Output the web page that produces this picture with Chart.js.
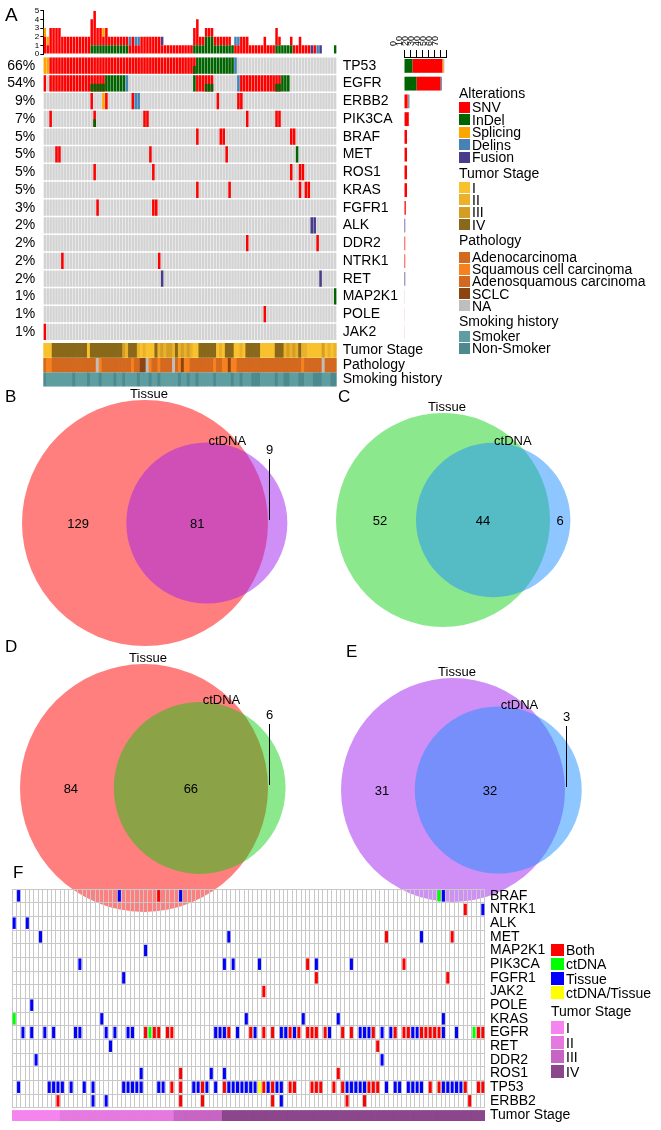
<!DOCTYPE html>
<html><head><meta charset="utf-8">
<script src="https://cdn.jsdelivr.net/npm/chart.js@4.4.1/dist/chart.umd.min.js"></script>
<style>
html,body{margin:0;padding:0;background:#fff;}
#root{position:relative;width:661px;height:1130px;overflow:hidden;font-family:"Liberation Sans",Arial,sans-serif;color:#000;}
.box{position:absolute;}
.t{position:absolute;white-space:nowrap;color:#000;}
.sw{position:absolute;}
</style></head><body><div id="root"></div>
<script>
// ================= DATA =================
// ---- Panel A: oncoprint ----
const nSamples = 100;
const opGenes = ['TP53','EGFR','ERBB2','PIK3CA','BRAF','MET','ROS1','KRAS','FGFR1','ALK','DDR2','NTRK1','RET','MAP2K1','POLE','JAK2'];
const opPct = ['66%','54%','9%','7%','5%','5%','5%','5%','3%','2%','2%','2%','2%','1%','1%','1%'];
// runs per gene: [firstSample, lastSample, type]  S=SNV I=InDel P=Splicing D=Delins F=Fusion X=SNV+InDel
const opRuns = [
  [[0,1,'P'],[2,50,'S'],[51,51,'X'],[52,64,'I'],[65,65,'D']],
  [[0,0,'S'],[2,15,'S'],[16,20,'X'],[21,27,'I'],[28,28,'D'],[51,51,'I'],[52,54,'S'],[55,57,'X'],[66,66,'D'],[67,78,'S'],[79,80,'X'],[81,83,'I']],
  [[16,16,'S'],[20,20,'P'],[21,21,'S'],[30,30,'S'],[31,32,'D'],[59,59,'S'],[66,67,'S']],
  [[2,2,'S'],[17,17,'X'],[34,35,'S'],[69,69,'S'],[79,80,'S']],
  [[52,52,'S'],[60,61,'S'],[84,85,'S']],
  [[4,5,'S'],[36,36,'S'],[62,62,'S'],[86,86,'I']],
  [[17,17,'S'],[37,37,'S'],[84,84,'S'],[87,88,'S']],
  [[52,52,'S'],[63,63,'S'],[87,87,'S'],[89,90,'S']],
  [[18,18,'S'],[37,38,'S']],
  [[91,92,'F']],
  [[69,69,'S'],[93,93,'S']],
  [[6,6,'S'],[39,39,'S']],
  [[40,40,'F'],[94,94,'F']],
  [[99,99,'I']],
  [[75,75,'S']],
  [[0,0,'S']]
];
// top bar: number of alterations per sample by type
const topInDel = [0,0,0,0,0,0,0,0,0,0, 0,0,0,0,0,0,1,1,1,1, 1,1,1,1,1,1,1,1,1,0, 0,0,0,0,0,0,0,0,0,0,
                  0,0,0,0,0,0,0,0,0,0, 0,1,1,1,1,2,2,2,1,1, 1,1,1,1,1,0,0,0,0,0, 0,0,0,0,0,0,0,0,0,1,
                  1,1,1,1,1,0,0,0,0,0, 0,0,0,0,0,0,0,0,0,1];
const topSNV   = [2,1,3,3,3,3,2,2,2,2, 2,2,2,2,2,2,3,4,2,2, 1,2,1,1,1,1,1,1,1,1, 2,1,1,2,2,2,2,2,2,2,
                  1,1,1,1,1,1,1,1,1,1, 1,2,3,1,1,1,1,1,1,1, 1,1,1,1,0,1,1,2,2,2, 1,1,1,1,1,2,1,1,1,2,
                  1,0,0,0,1,1,1,2,1,1, 1,0,1,0,0,0,0,0,0,0];
const topSplicingIdx = [0,1,20];
const topDelinsIdx = [29,31,32,65,66,93];
const topFusionIdx = [40,91,94];
// clinical annotation per sample
const tumorStageA = '1114444444444441444444444443244421211142323324232321144444412144411214444411111444232324221111131212';
const pathologyA = 'ASSAAAAAAAAAAAAAAANSAAAAAAAAAASAACCNSAASAAAANASCSSAAAAAAAASAASSCSSAAAAAAAAAAAAAAAAAAAAAASAAAAAANAAAA';
const nonSmokerIdx = [0,10,15,19,24,27,32,36,39,46,49,52,58,64,67,71,72,73,79,82,83,87,88,92,93,94,98,99];
const altTypes = ['SNV','InDel','Splicing','Delins','Fusion'];
const stageNames = ['I','II','III','IV'];
const pathNames = ['Adenocarcinoma','Squamous cell carcinoma','Adenosquamous carcinoma','SCLC','NA'];
const smokeNames = ['Smoker','Non-Smoker'];

// ---- Panels B-E: Venn ----
const vennPanels = ['B','C','D','E'];
const vennTissueOnly = [129, 52, 84, 31];
const vennShared = [81, 44, 66, 32];
const vennCtOnly = [9, 6, 6, 3];
const vennSetNames = ['Tissue','ctDNA'];

// ---- Panel F ----
const nCols = 108;
const fGenes = ['BRAF','NTRK1','ALK','MET','MAP2K1','PIK3CA','FGFR1','JAK2','POLE','KRAS','EGFR','RET','DDR2','ROS1','TP53','ERBB2'];
const fTissue = [
  [1,24,38,98],[107],[0,3],[6,49,93],[30],[15,48,50,56,69,77],[25],[],[4],[20,53,66,74,98],
  [2,4,7,9,14,15,21,23,26,27,46,47,48,51,55,61,62,64,72,79,80,81,84,86,91,92,98,101],
  [22],[5,84],[29,45,48],
  [1,8,9,10,11,13,16,18,25,26,27,28,29,33,34,41,42,44,46,49,50,51,52,53,54,55,58,60,61,76,77,78,79,80,85,87,88,90,91,92,93,98,99,100,101,102],
  [18,21,61]
];
const fBoth = [
  [33],[103],[],[85,100],[],[67,89],[69,99],[57],[],[],
  [30,32,33,35,36,49,54,57,59,63,65,67,68,69,71,75,77,82,87,89,90,93,94,95,96,97,106,107],
  [83],[],[38,74],
  [36,38,43,48,57,59,63,64,68,69,70,73,75,81,82,83,95,97,103,106,107],
  [10,38,43,59,76,80,104]
];
const fCtDNA = [[97],[],[],[],[],[],[],[],[],[0],[31,105],[],[],[],[],[]];
const fCtTissue = [[],[],[],[],[],[],[],[],[],[],[],[],[],[],[56],[]];
const fStageRuns = [[0,10,1],[11,36,2],[37,47,3],[48,107,4]];
const fCatNames = ['Both','ctDNA','Tissue','ctDNA/Tissue'];

// ================= STYLE =================
const FONT = "'Liberation Sans', Arial, sans-serif";
const altColor = {S:'#FF0000', I:'#006400', P:'#FFA500', D:'#4682B4', F:'#483D8B'};
const altColorList = ['#FF0000','#006400','#FFA500','#4682B4','#483D8B'];
const stageColA = ['#F8C12D','#EAB12A','#D49D24','#8A6819'];
const pathCol = {A:'#D2691E', S:'#F5821F', Q:'#D2691E', C:'#8B4513', N:'#BEBEBE'};
const pathColList = ['#D2691E','#F5821F','#D2691E','#8B4513','#BEBEBE'];
const smokeCol = ['#5F9EA0','#4D8A90'];
const fColors = ['#FF0000','#00FF00','#0000FF','#FFFF00'];
const fStageCol = ['#F584EF','#E679E0','#C864C3','#8C468C'];

Chart.defaults.font.family = FONT;
Chart.defaults.color = '#000';
Chart.defaults.animation = false;
Chart.defaults.events = [];
Chart.defaults.plugins.legend.display = false;
Chart.defaults.plugins.tooltip.enabled = false;

const root = document.getElementById('root');
function mkCanvas(l, t, w, h) {
  const d = document.createElement('div');
  d.className = 'box';
  d.style.cssText = `left:${l}px;top:${t}px;width:${w}px;height:${h}px;`;
  const c = document.createElement('canvas');
  d.appendChild(c); root.appendChild(d);
  return c;
}
function txt(s, x, y, size) {
  const d = document.createElement('div');
  d.className = 't';
  d.textContent = s;
  d.style.fontSize = size + 'px';
  d.style.lineHeight = size + 'px';
  d.style.top = (y - size / 2) + 'px';
  d.style.left = x + 'px';
  root.appendChild(d);
}
function sw(x, y, w, h, c) {
  const d = document.createElement('div');
  d.className = 'sw';
  d.style.cssText = `left:${x}px;top:${y}px;width:${w}px;height:${h}px;background:${c};`;
  root.appendChild(d);
}
const base = {responsive: true, maintainAspectRatio: false};
const rawColor = ctx => ctx.raw && ctx.raw.c;

// ================= PANEL A =================
const sampleLabels = Array.from({length: nSamples}, (_, i) => 's' + i);
function expandIdx(idx) { const a = new Array(nSamples).fill(0); idx.forEach(i => a[i] = 1); return a; }
const topSeries = [topSNV, topInDel, expandIdx(topSplicingIdx), expandIdx(topDelinsIdx), expandIdx(topFusionIdx)];
const topOrder = [1, 0, 2, 3, 4]; // InDel at the bottom

new Chart(mkCanvas(0, 0, 340, 64), {
  type: 'bar',
  data: {labels: sampleLabels, datasets: topOrder.map(j => ({
    label: altTypes[j], data: topSeries[j], backgroundColor: altColorList[j],
    barPercentage: 0.86, categoryPercentage: 1, stack: 's'}))},
  options: {...base, layout: {padding: {top: 10.7, bottom: 10, right: 3.3, left: 0}},
    scales: {
      x: {stacked: true, display: false},
      y: {stacked: true, min: 0, max: 5, ticks: {stepSize: 1, autoSkip: false, font: {size: 8}, padding: 1},
          grid: {drawOnChartArea: false, tickLength: 3, color: '#000'}, border: {color: '#000'},
          afterFit(s) { s.width = 43.3; }}
    }}
});

// oncoprint matrix
const ROW = 17.75;
const annRows = [[16.13, 16.92], [16.97, 17.76], [17.80, 18.55]];
const opMax = 330 / ROW;
const bgData = [], mainData = [], lowData = [], annData = [];
opGenes.forEach((g, k) => {
  for (let i = 0; i < nSamples; i++) bgData.push({x: sampleLabels[i], y: [k + 0.03, k + 0.95]});
  opRuns[k].forEach(([a, b, t]) => {
    for (let i = a; i <= b; i++) {
      mainData.push({x: sampleLabels[i], y: [k + 0.03, k + 0.95], c: t === 'X' ? altColor.S : altColor[t]});
      if (t === 'X') lowData.push({x: sampleLabels[i], y: [k + 0.5, k + 0.95], c: altColor.I});
    }
  });
});
const nonSmokerSet = new Set(nonSmokerIdx);
for (let i = 0; i < nSamples; i++) {
  annData.push({x: sampleLabels[i], y: annRows[0], c: stageColA[+tumorStageA[i] - 1]});
  annData.push({x: sampleLabels[i], y: annRows[1], c: pathCol[pathologyA[i]]});
  annData.push({x: sampleLabels[i], y: annRows[2], c: smokeCol[nonSmokerSet.has(i) ? 1 : 0]});
}
const opTickVals = opGenes.map((g, k) => k + 0.5).concat(annRows.map(r => (r[0] + r[1]) / 2));
const opRightLabels = opGenes.concat(['Tumor Stage', 'Pathology', 'Smoking history']);
function yAxis(pos, labels, width, pad) {
  return {type: 'linear', position: pos, reverse: true, min: 0, max: opMax,
    afterBuildTicks(s) { s.ticks = opTickVals.map(v => ({value: v})); },
    ticks: {autoSkip: false, font: {size: 14}, padding: pad, callback: (v, i) => labels[i] || ''},
    grid: {display: false, drawTicks: false}, border: {display: false},
    afterFit(s) { s.width = width; }};
}
new Chart(mkCanvas(0, 32, 460, 380), {
  type: 'bar',
  data: {labels: sampleLabels, datasets: [
    {data: bgData, backgroundColor: '#D3D3D3', barPercentage: 0.86, categoryPercentage: 1, grouped: false, order: 4},
    {data: mainData, backgroundColor: rawColor, barPercentage: 0.86, categoryPercentage: 1, grouped: false, order: 3},
    {data: lowData, backgroundColor: rawColor, barPercentage: 0.86, categoryPercentage: 1, grouped: false, order: 2},
    {data: annData, backgroundColor: rawColor, barPercentage: 1, categoryPercentage: 1, grouped: false, order: 1}
  ]},
  options: {...base, layout: {padding: {top: 25, bottom: 25, left: 0, right: 0}},
    scales: {
      x: {type: 'category', display: false},
      y: yAxis('left', opPct, 43.3, 8),
      y2: yAxis('right', opRightLabels, 123.3, 6)
    }}
});

// right side: counts per gene by type
const geneCounts = altTypes.map(() => opGenes.map(() => 0));
opRuns.forEach((runs, k) => runs.forEach(([a, b, t]) => {
  const n = b - a + 1;
  if (t === 'X') { geneCounts[0][k] += n; geneCounts[1][k] += n; }
  else geneCounts['SIPDF'.indexOf(t)][k] += n;
}));
new Chart(mkCanvas(380, 25, 80, 326), {
  type: 'bar',
  data: {labels: opGenes, datasets: topOrder.map(j => ({
    label: altTypes[j], data: geneCounts[j], backgroundColor: altColorList[j],
    barPercentage: 0.78, categoryPercentage: 1, stack: 'g'}))},
  options: {...base, indexAxis: 'y', layout: {padding: {left: 24, right: 14, top: 0, bottom: 10}},
    scales: {
      x: {position: 'top', stacked: true, min: 0, max: 70,
          ticks: {stepSize: 10, autoSkip: false, minRotation: 90, maxRotation: 90, font: {size: 9}, padding: 4},
          grid: {drawOnChartArea: false, tickLength: 7, color: '#000'}, border: {color: '#000'},
          afterFit(s) { s.height = 32; }},
      y: {stacked: true, display: false}
    }}
});

// Panel A texts & legend
txt('A', 5, 14, 19);
const legA = [
  ['Alterations', 93, null],
  ...altTypes.map((n, j) => [n, 107 + j * 12.5, altColorList[j]]),
  ['Tumor Stage', 173, null],
  ...stageNames.map((n, j) => [n, 187.5 + j * 12.4, stageColA[j]]),
  ['Pathology', 240, null],
  ...pathNames.map((n, j) => [n, 257 + j * 12.2, pathColList[j]]),
  ['Smoking history', 321, null],
  ...smokeNames.map((n, j) => [n, 336 + j * 12, smokeCol[j]])
];
legA.forEach(([n, y, c]) => {
  if (c) { sw(459, y - 5.5, 11, 11, c); txt(n, 472, y, 14); }
  else txt(n, 459, y, 14);
});

// ================= PANELS B-E: VENN =================
function lens(r1, r2, d) {
  if (d >= r1 + r2) return 0;
  if (d <= Math.abs(r1 - r2)) return Math.PI * Math.min(r1, r2) ** 2;
  const a = r1 * r1 * Math.acos((d * d + r1 * r1 - r2 * r2) / (2 * d * r1));
  const b = r2 * r2 * Math.acos((d * d + r2 * r2 - r1 * r1) / (2 * d * r2));
  const c = 0.5 * Math.sqrt((-d + r1 + r2) * (d + r1 - r2) * (d - r1 + r2) * (d + r1 + r2));
  return a + b - c;
}
function solveD(r1, r2, target) {
  let lo = Math.abs(r1 - r2), hi = r1 + r2;
  for (let i = 0; i < 80; i++) { const m = (lo + hi) / 2; if (lens(r1, r2, m) > target) lo = m; else hi = m; }
  return (lo + hi) / 2;
}
const vennLayout = [
  {l: 0,   t: 375, w: 330, h: 275, cx: 145, cy: 523, r1: 123, ext: true,  c1: 'rgba(255,0,0,0.5)',   c2: 'rgba(160,32,240,0.5)', lx: 9,   ly: 396},
  {l: 330, t: 375, w: 331, h: 275, cx: 443, cy: 520, r1: 107, ext: false, c1: 'rgba(0,205,0,0.45)',  c2: 'rgba(30,144,255,0.5)', lx: 342, ly: 396},
  {l: 0,   t: 640, w: 330, h: 285, cx: 144, cy: 788, r1: 124, ext: true,  c1: 'rgba(255,0,0,0.5)',   c2: 'rgba(0,205,0,0.45)',   lx: 9,   ly: 646},
  {l: 330, t: 640, w: 331, h: 285, cx: 453, cy: 790, r1: 112, ext: true,  c1: 'rgba(160,32,240,0.5)', c2: 'rgba(30,144,255,0.5)', lx: 350, ly: 651}
];
vennPanels.forEach((p, v) => {
  const L = vennLayout[v];
  const n1 = vennTissueOnly[v] + vennShared[v], n2 = vennCtOnly[v] + vennShared[v];
  const k = L.r1 / Math.sqrt(n1);
  const r1 = L.r1, r2 = k * Math.sqrt(n2);
  const d = solveD(r1, r2, Math.PI * k * k * vennShared[v]);
  const cx = L.cx - L.l, cy = L.cy - L.t;
  const labelPlugin = {
    id: 'vennText' + p,
    afterDatasetsDraw(chart) {
      const ctx = chart.ctx, xs = chart.scales.x, ys = chart.scales.y;
      const X = val => xs.getPixelForValue(val), Y = val => ys.getPixelForValue(val);
      ctx.save();
      ctx.fillStyle = '#000'; ctx.strokeStyle = '#000'; ctx.lineWidth = 1;
      ctx.font = '13px ' + FONT; ctx.textAlign = 'center'; ctx.textBaseline = 'middle';
      const L1 = cx - r1, R1 = cx + r1, L2 = cx + d - r2, R2 = cx + d + r2;
      ctx.fillText(String(vennTissueOnly[v]), X((L1 + L2) / 2 + 4), Y(cy + 1));
      ctx.fillText(String(vennShared[v]), X((L2 + R1) / 2), Y(cy + 1));
      if (L.ext) {
        const xl = Math.round(X(R1 + 1)) + 0.5;
        ctx.beginPath(); ctx.moveTo(xl, Y(cy - 3)); ctx.lineTo(xl, Y(cy - 64)); ctx.stroke();
        ctx.fillText(String(vennCtOnly[v]), xl, Y(cy - 73));
      } else {
        ctx.fillText(String(vennCtOnly[v]), X((R1 + R2) / 2), Y(cy + 1));
      }
      ctx.fillText(vennSetNames[0], X(cx + 4), Y(cy - r1 - 6));
      const ang = 14 * Math.PI / 180;
      ctx.fillText(vennSetNames[1], X(cx + d + (r2 + 4) * Math.sin(ang)), Y(cy - (r2 + 4) * Math.cos(ang)));
      ctx.restore();
    }
  };
  new Chart(mkCanvas(L.l, L.t, L.w, L.h), {
    type: 'bubble',
    data: {datasets: [
      {data: [{x: cx + d, y: cy, r: r2}], backgroundColor: L.c2, borderWidth: 0, clip: false, order: 1},
      {data: [{x: cx, y: cy, r: r1}], backgroundColor: L.c1, borderWidth: 0, clip: false, order: 2}
    ]},
    options: {...base, layout: {padding: 0, autoPadding: false},
      scales: {x: {type: 'linear', display: false, min: 0, max: L.w},
               y: {type: 'linear', display: false, min: 0, max: L.h, reverse: true}}},
    plugins: [labelPlugin]
  });
  txt(p, L.lx - 4, L.ly, 17);
});

// ================= PANEL F =================
const colLabels = Array.from({length: nCols}, (_, i) => 'c' + i);
const FROW = 13.67;
const fMax = 232 / FROW;
const fTumor = [16.2, 16.95];
const fCellData = [];
[fBoth, fCtDNA, fTissue, fCtTissue].forEach((lists, t) => lists.forEach((cols, k) => cols.forEach(c =>
  fCellData.push({x: colLabels[c], y: [k + 0.08, k + 0.92], c: fColors[t]}))));
const fStageData = [], fWhite = [];
fStageRuns.forEach(([a, b, s]) => { for (let i = a; i <= b; i++) fStageData.push({x: colLabels[i], y: fTumor, c: fStageCol[s - 1]}); });
for (let i = 0; i < nCols; i++) fWhite.push({x: colLabels[i], y: [16.04, fTumor[0]]});
const fTickVals = fGenes.map((g, k) => k + 0.5).concat([(fTumor[0] + fTumor[1]) / 2]);
const fRightLabels = fGenes.concat(['Tumor Stage']);
new Chart(mkCanvas(0, 864, 661, 282), {
  type: 'bar',
  data: {labels: colLabels, datasets: [
    {data: fWhite, backgroundColor: '#FFFFFF', barPercentage: 1, categoryPercentage: 1, grouped: false, order: 3},
    {data: fStageData, backgroundColor: rawColor, barPercentage: 1, categoryPercentage: 1, grouped: false, order: 2},
    {data: fCellData, backgroundColor: rawColor, barPercentage: 0.7, categoryPercentage: 1, grouped: false, order: 1}
  ]},
  options: {...base, layout: {padding: {top: 25, bottom: 25, left: 12, right: 0}},
    scales: {
      x: {type: 'category', ticks: {display: false}, border: {display: false},
          grid: {color: '#C8C8C8', lineWidth: 1, offset: true, drawTicks: false},
          afterFit(s) { s.height = 0; }},
      yg: {type: 'linear', position: 'left', reverse: true, min: 0, max: fMax,
           afterBuildTicks(s) { s.ticks = fGenes.map((g, k) => ({value: k})).concat([{value: fGenes.length}]); },
           ticks: {display: false}, border: {display: false},
           grid: {color: '#C8C8C8', lineWidth: 1, drawTicks: false},
           afterFit(s) { s.width = 0; }},
      y: {type: 'linear', position: 'right', reverse: true, min: 0, max: fMax,
          afterBuildTicks(s) { s.ticks = fTickVals.map(v => ({value: v})); },
          ticks: {autoSkip: false, font: {size: 14}, padding: 5, callback: (v, i) => fRightLabels[i] || ''},
          grid: {display: false, drawTicks: false}, border: {display: false},
          afterFit(s) { s.width = 176; }}
    }}
});
txt('F', 13, 872, 17);
fCatNames.forEach((n, j) => { sw(551, 943.5 + j * 14.3, 12.5, 12.5, fColors[j]); txt(n, 566, 950 + j * 14.3, 14); });
txt('Tumor Stage', 551, 1011, 14);
stageNames.forEach((n, j) => { sw(551, 1021 + j * 14.6, 12.5, 13, fStageCol[j]); txt(n, 566, 1028 + j * 14.6, 14); });
</script>
</body></html>
